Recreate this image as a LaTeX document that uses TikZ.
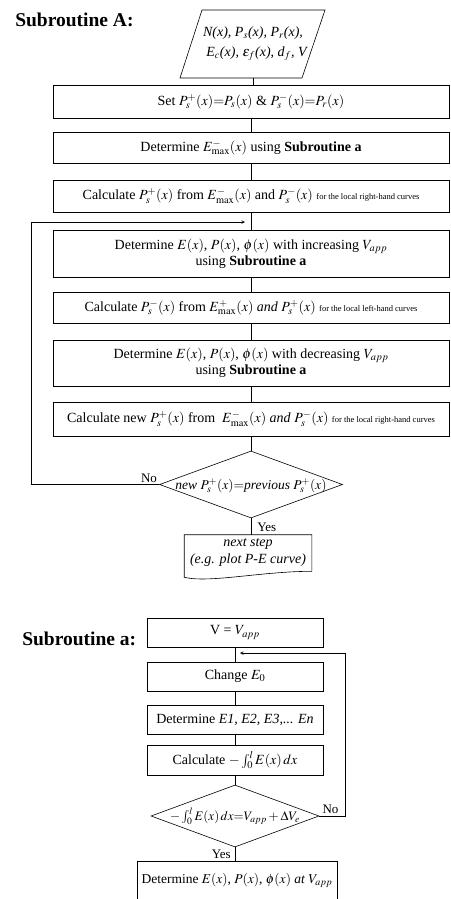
\documentclass[tikz,border=0pt]{standalone}
\usepackage{mathptmx}
\usepackage{fontspec}
\setmainfont{Liberation Serif}
\usetikzlibrary{shapes.geometric}
\newcommand{\remark}[1]{{\fontsize{8.5}{10}\selectfont #1}}
\newcommand{\nobox}[1]{\makebox[0pt]{\raisebox{-0.35em}[0pt][0pt]{#1}}}
\begin{document}
\begin{tikzpicture}[x=1pt,y=-1pt,
  font=\fontsize{14}{16}\selectfont,
  line width=0.6pt,
  stepbox/.style={draw,rectangle,minimum width=396pt,inner sep=0pt,align=center},
  subbox/.style={draw,rectangle,minimum width=176pt,inner sep=0pt,align=center},
  decision/.style={draw,diamond,inner sep=0pt},
  title/.style={font=\fontsize{19.5}{22}\selectfont\bfseries,anchor=base west,inner sep=0pt},
  lbl/.style={font=\fontsize{13}{15}\selectfont,inner sep=1pt},
  >=stealth]

  \useasboundingbox (0,0) rectangle (450,899);

  % Subroutine A
  \node[title] (titleA) at (15,27) {Subroutine A:};
  \node[minimum width=123pt,minimum height=68pt,inner sep=0pt,align=center,
        font=\fontsize{14}{20}\selectfont\itshape] (input) at (253,44)
        {N(x), P$_s$(x), P$_r$(x),\\\ \ E$_c$(x), $\varepsilon_f$(x), d$_f$, V};
  \draw ([shift={(-51,-34)}]input.center) -- ([shift={(72,-34)}]input.center)
        -- ([shift={(49,34)}]input.center) -- ([shift={(-73,34)}]input.center) -- cycle;

  \node[stepbox,minimum height=33pt] (set) at (251,101.5)
        {Set $P_s^{+}(x){=}P_s(x)$ \& $P_s^{-}(x){=}P_r(x)$};
  \node[stepbox,minimum height=31pt] (emax) at (251,147.5)
        {Determine $E^{-}_{\max}(x)$ using \textbf{Subroutine a}};
  \node[stepbox,minimum height=32pt] (right1) at (251,196)
        {Calculate $P_s^{+}(x)$ from $E^{-}_{\max}(x)$ and $P_s^{-}(x)$ \remark{for the local right-hand curves}};
  \node[stepbox,minimum height=47pt] (incr) at (251,253.5)
        {Determine $E(x)$, $P(x)$, $\phi(x)$ with increasing $V_{app}$\\using \textbf{Subroutine a}};
  \node[stepbox,minimum height=31pt] (left) at (251,307.5)
        {Calculate $P_s^{-}(x)$ from $E^{+}_{\max}(x)$ \textit{and} $P_s^{+}(x)$ \remark{for the local left-hand curves}};
  \node[stepbox,minimum height=46pt] (decr) at (251,363)
        {Determine $E(x)$, $P(x)$, $\phi(x)$ with decreasing $V_{app}$\\using \textbf{Subroutine a}};
  \node[stepbox,minimum height=34pt] (right2) at (251,419)
        {Calculate new $P_s^{+}(x)$ from \ $E^{-}_{\max}(x)$ \textit{and} $P_s^{-}(x)$ \remark{for the local right-hand curves}};
  \node[decision,minimum width=183pt,minimum height=67pt,font=\fontsize{13.5}{16}\selectfont] (conv) at (251,484.5)
        {\nobox{\textit{new} $P_s^{+}(x){=}$\textit{previous} $P_s^{+}(x)$}};
  \node[minimum width=127pt,minimum height=36pt,inner sep=0pt,align=center,font=\fontsize{14}{17}\selectfont\itshape] (nextstep) at (248,553)
        {next step\\(e.g. plot P-E curve)};
  \draw (nextstep.south east) -- (nextstep.north east) -- (nextstep.north west)
        -- ([shift={(0,6)}]nextstep.south west)
        .. controls +(25,6) and +(-50,0) .. (nextstep.south east);

  \draw (input.south) -- (input.south |- set.north);
  \draw (set) -- (emax);
  \draw (emax) -- (right1);
  \draw (right1) -- (incr);
  \draw (incr) -- (left);
  \draw (left) -- (decr);
  \draw (decr) -- (right2);
  \draw (right2) -- (conv);
  \draw (conv.south) -- (conv.south |- nextstep.north);

  \coordinate (loopin) at (245,222);
  \draw[->] (conv.west) -- ++(-128,0) |- (loopin);
  \node[lbl,anchor=south east] (noA) at ([shift={(-1,-1)}]conv.west) {No};
  \node[lbl,anchor=west] (yesA) at ([shift={(5,9)}]conv.south) {Yes};

  % Subroutine a
  \node[title] (titlea) at (22,645) {Subroutine a:};
  \node[subbox,minimum height=29pt] (vbox) at (235,632.5) {V = $V_{app}$};
  \node[subbox,minimum height=29pt] (change) at (235,676.5) {Change $E_0$};
  \node[subbox,minimum height=29pt] (determ) at (235,719.5) {Determine \textit{E1, E2, E3,... En}};
  \node[subbox,minimum height=30pt] (calc) at (235,760) {Calculate $-\int_0^l E(x)\,dx$};
  \node[decision,minimum width=168pt,minimum height=62pt,font=\fontsize{13}{15}\selectfont] (check) at (235,816)
        {\nobox{$-\int_0^l E(x)\,dx{=}V_{app}+\Delta V_{e}$}};
  \node[draw,rectangle,minimum width=200pt,minimum height=38pt,inner sep=0pt,font=\fontsize{13.5}{16}\selectfont] (result) at (237,880)
        {Determine $E(x)$, $P(x)$, $\phi(x)$ \textit{at} $V_{app}$};

  \draw (vbox) -- (change);
  \draw (change) -- (determ);
  \draw (determ) -- (calc);
  \draw (calc) -- (check);
  \draw (check.south) -- (check.south |- result.north);

  \coordinate (backin) at (240,653);
  \draw[->] (check.east) -- ++(26,0) |- (backin);
  \node[lbl,anchor=south west] (noa) at ([shift={(2,-1)}]check.east) {No};
  \node[lbl,anchor=east] (yesa) at ([shift={(-3,7)}]check.south) {Yes};
\end{tikzpicture}
\end{document}
